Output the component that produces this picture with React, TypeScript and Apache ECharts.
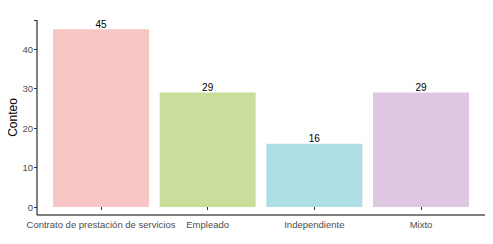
import React, { useEffect, useRef } from "react";
import * as echarts from "echarts";

const categories = ["Contrato de prestación de servicios", "Empleado", "Independiente", "Mixto"];
const counts = [45, 29, 16, 29];
const barColors = ["#F7C5C3", "#CBDD9B", "#AEDFE5", "#DEC7E0"];
const yTicks = [0, 10, 20, 30, 40];
const yTitle = "Conteo";

const W = 493;
const H = 244;
const axisLeft = 37;
const axisRight = 485;
const axisBottom = 215;
const axisTop = 20;
const unit = (axisRight - axisLeft) / 4.2;
const gridLeft = axisLeft + 0.1 * unit;
const gridRight = W - (axisRight - 0.1 * unit);
const yMax = 47.25;
const y0 = 207;
const gridTop = 20.4;

export default function App() {
  const ref = useRef<HTMLDivElement>(null);
  useEffect(() => {
    if (!ref.current) return;
    const chart = echarts.init(ref.current, null, { renderer: "svg" });
    const font = "Liberation Sans, Arial, sans-serif";
    chart.setOption({
      animation: false,
      backgroundColor: "#ffffff",
      grid: {
        left: gridLeft,
        right: gridRight,
        top: gridTop,
        bottom: H - y0,
        containLabel: false,
        outerBoundsMode: "none",
      },
      xAxis: {
        type: "category",
        data: categories,
        offset: axisBottom - y0,
        axisLine: { show: false },
        axisTick: { show: true, alignWithLabel: true, length: 3, lineStyle: { color: "#333" } },
        axisLabel: { color: "#4d4d4d", fontSize: 9.5, fontFamily: font, margin: 4, interval: 0 },
      },
      yAxis: {
        type: "value",
        min: 0,
        max: yMax,
        interval: 10,
        offset: gridLeft - axisLeft,
        axisLine: { show: false },
        axisTick: { show: true, length: 3, lineStyle: { color: "#333" } },
        axisLabel: {
          color: "#4d4d4d",
          fontSize: 9.5,
          fontFamily: font,
          margin: 4,
          formatter: (v: number) => (yTicks.includes(v) ? String(v) : ""),
        },
        splitLine: { show: false },
      },
      series: [
        {
          type: "bar",
          barWidth: "90%",
          data: counts.map((v, i) => ({ value: v, itemStyle: { color: barColors[i] } })),
          label: {
            show: true,
            position: "top",
            distance: 0,
            color: "#000",
            fontSize: 10,
            fontFamily: font,
          },
        },
      ],
      graphic: [
        {
          type: "line",
          shape: { x1: axisLeft, y1: axisTop, x2: axisLeft, y2: axisBottom },
          style: { stroke: "#000", lineWidth: 1 },
        },
        {
          type: "line",
          shape: { x1: axisLeft, y1: axisBottom, x2: axisRight, y2: axisBottom },
          style: { stroke: "#000", lineWidth: 1 },
        },
        {
          type: "text",
          x: 13,
          y: (axisTop + axisBottom) / 2,
          rotation: Math.PI / 2,
          style: {
            text: yTitle,
            fill: "#000",
            fontSize: 12,
            fontFamily: font,
            textAlign: "center",
            textVerticalAlign: "middle",
          },
        },
      ],
    });
    return () => chart.dispose();
  }, []);
  return <div ref={ref} style={{ width: W, height: H, margin: -8 }} />;
}
